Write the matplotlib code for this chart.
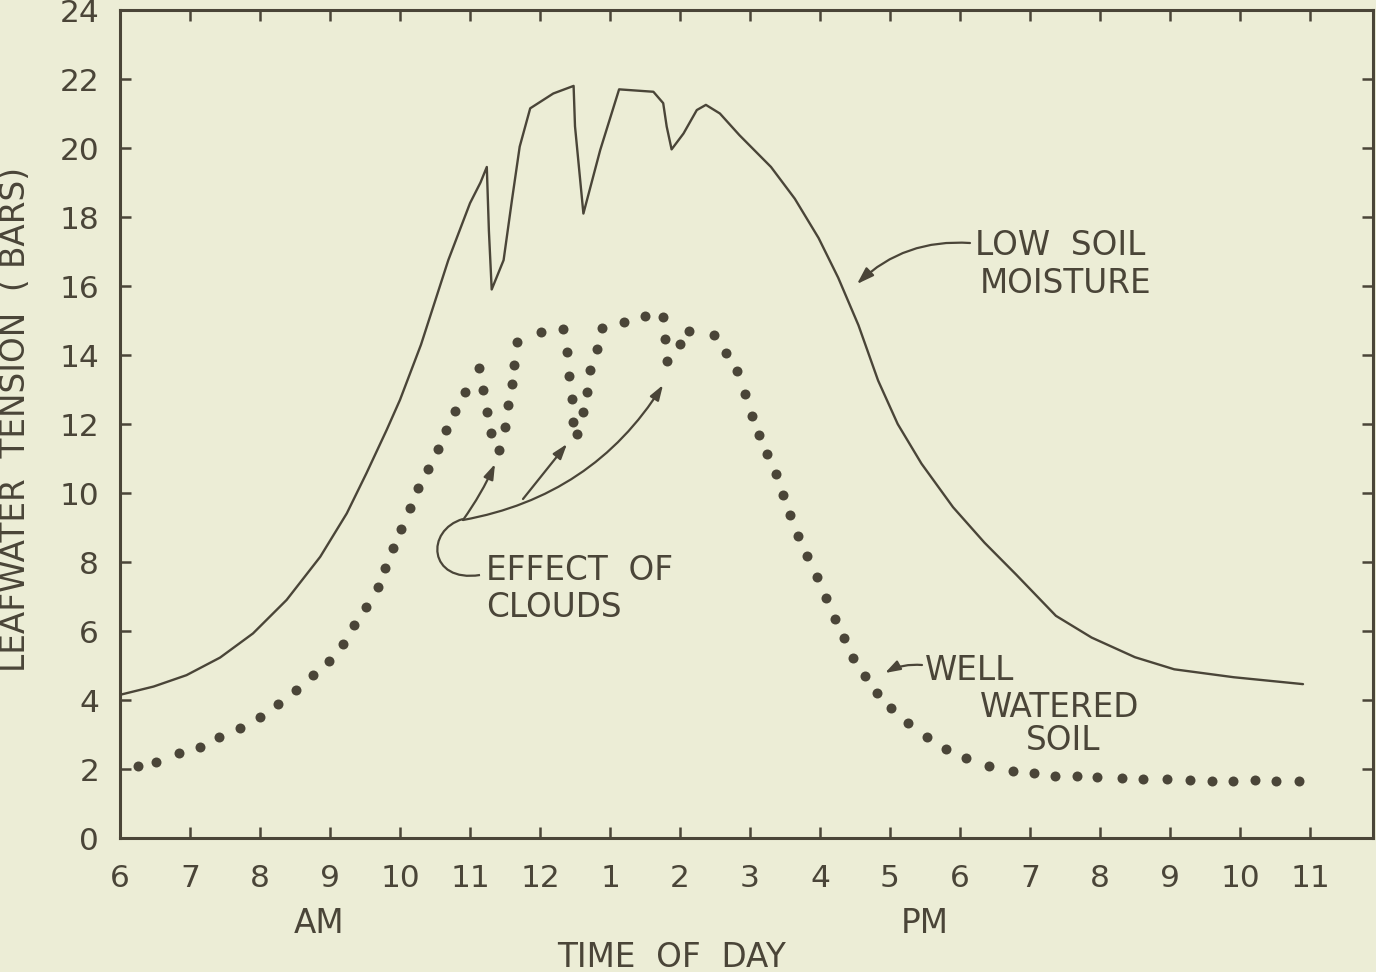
import matplotlib
matplotlib.use("Agg")
import matplotlib.pyplot as plt
from matplotlib.path import Path
from matplotlib.patches import PathPatch, FancyArrowPatch

BG = "#ecedd6"
INK = "#4a4538"

# ---- axis ticks ----
hour_ticks = list(range(6, 24))
hour_labels = ["6", "7", "8", "9", "10", "11", "12", "1", "2", "3", "4", "5",
               "6", "7", "8", "9", "10", "11"]
y_ticks = list(range(0, 25, 2))

# ---- LOW SOIL MOISTURE (solid line) ----
low_x = [6.0, 6.48, 6.95, 7.43, 7.9, 8.38, 8.86, 9.24, 9.52, 9.81, 10.0, 10.3,
         10.69, 11.0, 11.15, 11.24, 11.27, 11.31, 11.48, 11.6, 11.71, 11.86,
         12.19, 12.48, 12.5, 12.62, 12.86, 13.13, 13.62, 13.76, 13.81, 13.88,
         14.05, 14.24, 14.37, 14.57, 14.85, 15.3, 15.64, 15.98, 16.26, 16.55,
         16.83, 17.11, 17.45, 17.9, 18.35, 18.8, 19.37, 19.88, 20.5, 21.06,
         21.91, 22.9]
low_y = [4.15, 4.39, 4.72, 5.23, 5.93, 6.9, 8.15, 9.41, 10.57, 11.83, 12.7, 14.3,
         16.75, 18.4, 19.0, 19.45, 17.6, 15.9, 16.75, 18.5, 20.04, 21.15,
         21.58, 21.8, 20.63, 18.1, 19.94, 21.7, 21.63, 21.3, 20.62, 19.96,
         20.42, 21.1, 21.25, 21.0, 20.37, 19.45, 18.53, 17.39, 16.24, 14.86,
         13.26, 12.0, 10.85, 9.59, 8.56, 7.64, 6.44, 5.81, 5.24, 4.89,
         4.66, 4.46]

# ---- WELL WATERED SOIL (dotted) ----
well_x = [6.26, 6.52, 6.85, 7.14, 7.42, 7.71, 8.0, 8.26, 8.51, 8.76, 8.98, 9.19,
          9.35, 9.52, 9.68, 9.79, 9.90, 10.02, 10.14, 10.26, 10.40, 10.54, 10.66,
          10.79, 10.93, 11.13, 11.19, 11.25, 11.30, 11.41, 11.5, 11.54, 11.6,
          11.63, 11.67, 12.02, 12.33, 12.39, 12.42, 12.46, 12.47, 12.53, 12.62,
          12.67, 12.72, 12.82, 12.89, 13.2, 13.5, 13.76, 13.78, 13.81, 14.0,
          14.13, 14.48, 14.66, 14.81, 14.93, 15.03, 15.13, 15.24, 15.37, 15.47,
          15.57, 15.69, 15.81, 15.96, 16.09, 16.22, 16.34, 16.47, 16.64, 16.81,
          17.01, 17.25, 17.53, 17.8, 18.09, 18.42, 18.75, 19.05, 19.36, 19.67,
          19.96, 20.31, 20.61, 20.95, 21.28, 21.6, 21.9, 22.22, 22.52, 22.84]
well_y = [2.09, 2.21, 2.45, 2.64, 2.92, 3.18, 3.52, 3.88, 4.30, 4.72, 5.14, 5.63,
          6.17, 6.70, 7.27, 7.83, 8.40, 8.96, 9.56, 10.15, 10.69, 11.28, 11.83,
          12.39, 12.93, 13.61, 13.0, 12.36, 11.75, 11.24, 11.92, 12.54, 13.15,
          13.72, 14.39, 14.66, 14.76, 14.1, 13.39, 12.72, 12.07, 11.70, 12.36,
          12.94, 13.57, 14.18, 14.77, 14.95, 15.13, 15.09, 14.46, 13.84, 14.32,
          14.70, 14.58, 14.05, 13.55, 12.87, 12.24, 11.67, 11.13, 10.54, 9.95,
          9.36, 8.76, 8.17, 7.56, 6.97, 6.35, 5.79, 5.23, 4.70, 4.21,
          3.76, 3.32, 2.92, 2.57, 2.31, 2.09, 1.95, 1.89, 1.81, 1.81,
          1.78, 1.73, 1.72, 1.70, 1.68, 1.65, 1.64, 1.68, 1.66, 1.66]

plt.rcParams['font.family'] = ['DejaVu Sans']
FS = 22.5
FT = 23.5

fig = plt.figure(figsize=(13.76, 9.72), dpi=100, facecolor=BG)
ax = fig.add_axes([120 / 1376, 1 - 838 / 972, 1253 / 1376, 828 / 972])
ax.set_facecolor(BG)

ax.plot(low_x, low_y, color=INK, lw=1.7, solid_joinstyle='round',
        solid_capstyle='round')
ax.plot(well_x, well_y, ls='none', marker='o', ms=7.2, color=INK, mec='none')

ax.set_xlim(6, 23.9)
ax.set_ylim(0, 24)
ax.set_xticks(hour_ticks)
ax.set_xticklabels(hour_labels)
ax.set_yticks(y_ticks)
ax.tick_params(axis='both', direction='in', length=8, width=1.8, color=INK,
               labelcolor=INK, labelsize=FS)
ax.tick_params(axis='x', top=True, pad=18.5)
ax.tick_params(axis='y', right=True, pad=15)
for s in ax.spines.values():
    s.set_color(INK)
    s.set_linewidth(2.2)


def px(x, y):
    return (6 + (x - 120) / 70.0, (838 - y) / 34.5)


def arrow(a, b, rad, ms=15, hl=0.6, hw=0.2):
    p = FancyArrowPatch(px(*a), px(*b),
                        arrowstyle=f'-|>,head_length={hl},head_width={hw}',
                        connectionstyle=f'arc3,rad={rad}', mutation_scale=ms,
                        color=INK, lw=1.6, shrinkA=0, shrinkB=0)
    ax.add_patch(p)


# text labels
tkw = dict(color=INK, fontsize=FT, ha='left', va='baseline')
ax.text(*px(975, 255), "LOW  SOIL", **tkw)
ax.text(*px(980, 293), "MOISTURE", **tkw)
ax.text(*px(486, 580), "EFFECT  OF", **tkw)
ax.text(*px(486, 617), "CLOUDS", **tkw)
ax.text(*px(925, 680), "WELL", **tkw)
ax.text(*px(980, 717), "WATERED", **tkw)
ax.text(*px(1026, 750), "SOIL", **tkw)

# arrows
arrow((970, 243), (857, 284), 0.22, ms=17)
arrow((922, 665), (885, 673), 0.15, ms=15)
arrow((463, 520), (495, 464), 0.05)
arrow((523, 499), (567, 444), 0.0)
arrow((463, 520), (663, 385), 0.22)

hook = Path([px(480, 575), px(428, 583), px(425, 530), px(463, 519)],
            [Path.MOVETO, Path.CURVE4, Path.CURVE4, Path.CURVE4])
ax.add_patch(PathPatch(hook, fc='none', ec=INK, lw=1.6))

# axis titles
fig.text(16 / 1376, 1 - 420 / 972, "LEAFWATER  TENSION  ( BARS)", rotation=90,
         ha='center', va='center', color=INK, fontsize=FT)
fig.text(672 / 1376, 1 - 967 / 972, "TIME  OF  DAY", ha='center', va='baseline',
         color=INK, fontsize=FT)
fig.text(319 / 1376, 1 - 933 / 972, "AM", ha='center', va='baseline',
         color=INK, fontsize=FT)
fig.text(925 / 1376, 1 - 933 / 972, "PM", ha='center', va='baseline',
         color=INK, fontsize=FT)

fig.savefig("out.png", dpi=100, facecolor=BG)
